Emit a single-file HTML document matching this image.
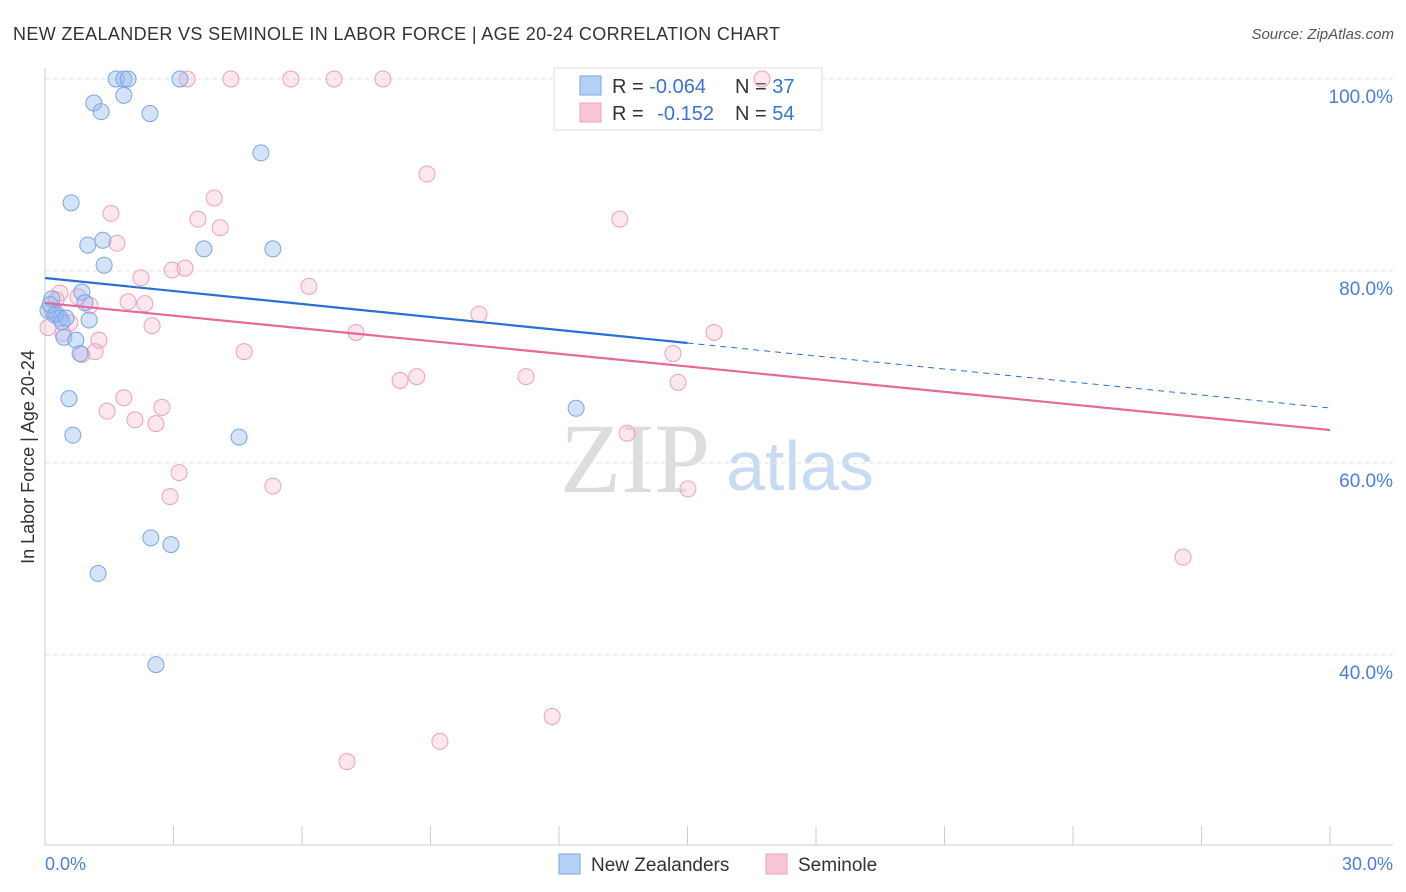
<!DOCTYPE html>
<html><head><meta charset="utf-8"><style>
body{margin:0;background:#fff;font-family:"Liberation Sans",sans-serif;}
svg{display:block}
</style></head><body>
<svg id="chart" width="1406" height="892">
<text x="13" y="40" font-size="18" fill="#333" textLength="767">NEW ZEALANDER VS SEMINOLE IN LABOR FORCE | AGE 20-24 CORRELATION CHART</text>
<text x="1394" y="39" font-size="15" fill="#555" font-style="italic" text-anchor="end">Source: ZipAtlas.com</text>
<text x="0" y="0" transform="translate(34,457) rotate(-90)" font-size="18" fill="#333" text-anchor="middle">In Labor Force | Age 20-24</text>
<text x="635" y="492" font-size="100" fill="#ddd" font-family="Liberation Serif,serif" text-anchor="middle">ZIP</text>
<text x="800" y="490" font-size="70" fill="#c9daf3" text-anchor="middle">atlas</text>
<g id="grid"></g>
<g>
<rect x="554" y="68" width="268" height="62" fill="#fff" stroke="#ddd"/>
<rect x="580" y="76" width="21" height="19" fill="#b5cff5" stroke="#7aa6e6"/>
<rect x="580" y="103" width="21" height="19" fill="#f9c6d6" stroke="#eda0bb"/>
<text x="612" y="93" font-size="20" fill="#333">R = <tspan fill="#3b74d0">-0.064</tspan></text>
<text x="735" y="93" font-size="20" fill="#333">N = <tspan fill="#3b74d0">37</tspan></text>
<text x="612" y="120" font-size="20" fill="#333">R = <tspan fill="#3b74d0" dx="8">-0.152</tspan></text>
<text x="735" y="120" font-size="20" fill="#333">N = <tspan fill="#3b74d0">54</tspan></text>
</g>
<g id="marks"></g>
<g>
<rect x="559" y="854" width="21" height="20" fill="#b5cff5" stroke="#7aa6e6"/>
<text x="591" y="871" font-size="19" fill="#333">New Zealanders</text>
<rect x="766" y="854" width="21" height="20" fill="#f9c6d6" stroke="#eda0bb"/>
<text x="798" y="871" font-size="19" fill="#333">Seminole</text>
</g>
</svg>
<script>
const blueX=[1.66,1.84,1.94,3.15,1.14,1.84,1.31,2.45,5.04,0.61,1.00,1.35,1.38,3.71,5.32,0.16,0.86,0.93,0.26,0.35,1.03,0.44,0.72,0.82,0.56,0.65,4.53,12.4,2.47,2.94,1.24,2.59,0.07,0.12,0.23,0.40,0.49];
const blueY=[100,100,100,100,97.5,98.3,96.6,96.4,92.3,87.1,82.7,83.2,80.6,82.3,82.3,77.1,77.8,76.7,75.6,75.1,74.9,73.1,72.8,71.4,66.7,62.9,62.7,65.7,52.2,51.5,48.5,39.0,75.9,76.5,75.4,74.7,75.1];
const pinkX=[3.32,4.34,5.74,6.75,7.89,16.74,8.92,3.95,1.54,3.57,4.09,1.68,13.42,2.24,2.97,3.27,6.16,0.35,1.94,2.33,1.05,0.77,2.50,0.58,0.42,1.26,1.17,0.86,4.65,7.26,10.13,15.62,14.66,8.29,8.68,11.23,14.78,1.84,1.45,2.73,2.10,2.59,3.13,5.32,2.92,13.59,15.01,26.57,11.84,9.22,7.05,0.07,0.16,0.26];
const pinkY=[100,100,100,100,100,100,90.1,87.6,86.0,85.4,84.5,82.9,85.4,79.3,80.1,80.3,78.4,77.7,76.8,76.6,76.4,77.3,74.3,74.6,73.5,72.8,71.6,71.3,71.6,73.6,75.5,73.6,71.4,68.6,69.0,69.0,68.4,66.8,65.4,65.8,64.5,64.1,59.0,57.6,56.5,63.1,57.3,50.2,33.6,31.0,28.9,74.1,75.9,77.0];
const blueTrend=[79.27,65.73];
const pinkTrend=[76.67,63.44];
const yTicks=[100,80,60,40];
const xTickVals=[0,3,6,9,12,15,18,21,24,27,30];
const NS='http://www.w3.org/2000/svg';
const sx=v=>45+v*1285/30, sy=v=>79+(100-v)*9.6;
function mk(t,a,p){const e=document.createElementNS(NS,t);for(const k in a)e.setAttribute(k,a[k]);p.appendChild(e);return e;}
const grid=document.getElementById('grid'),marks=document.getElementById('marks');
yTicks.forEach(v=>{
 const l=mk('line',{x1:45,x2:1393,y1:sy(v),y2:sy(v),stroke:'#e2e2e2','stroke-dasharray':'4,4'},grid);
 
 
 const t=mk('text',{x:1393,y:sy(v)+24,'font-size':19,fill:'#4a7fd6','text-anchor':'end'},grid);t.textContent=v.toFixed(1)+'%';
 
 
});
mk('line',{x1:45,x2:45,y1:68,y2:845,stroke:'#ccc'},grid);
mk('line',{x1:45,x2:1393,y1:845,y2:845,stroke:'#ccc'},grid);
xTickVals.forEach(v=>{const l=mk('line',{x1:sx(v),x2:sx(v),y1:826,y2:845,stroke:'#ccc'},grid);
 
 });
[[0,'start',45],[30,'end',1393]].forEach(([v,a,x])=>{const t=mk('text',{x:x,y:870,'font-size':18,fill:'#4a7fd6','text-anchor':a},grid);t.textContent=v.toFixed(1)+'%';
 
 });
pinkX.forEach((x,i)=>{const c=mk('circle',{cx:sx(x),cy:sy(pinkY[i]),r:8,fill:'rgba(245,175,200,0.3)',stroke:'#eda0bb','stroke-width':1},marks);
 
 });
blueX.forEach((x,i)=>{const c=mk('circle',{cx:sx(x),cy:sy(blueY[i]),r:8,fill:'rgba(150,185,240,0.4)',stroke:'#7aa6e6','stroke-width':1},marks);
 
 });
const bAt=v=>blueTrend[0]+(blueTrend[1]-blueTrend[0])*v/30;
let l=mk('line',{x1:sx(0),y1:sy(bAt(0)),x2:sx(15),y2:sy(bAt(15)),stroke:'#2a6fd6','stroke-width':2.2},marks);


l=mk('line',{x1:sx(15),y1:sy(bAt(15)),x2:sx(30),y2:sy(bAt(30)),stroke:'#2a6fd6','stroke-width':1,'stroke-dasharray':'6,5'},marks);


l=mk('line',{x1:sx(0),y1:sy(pinkTrend[0]),x2:sx(30),y2:sy(pinkTrend[1]),stroke:'#e8689a','stroke-width':2.2},marks);


</script>
</body></html>
